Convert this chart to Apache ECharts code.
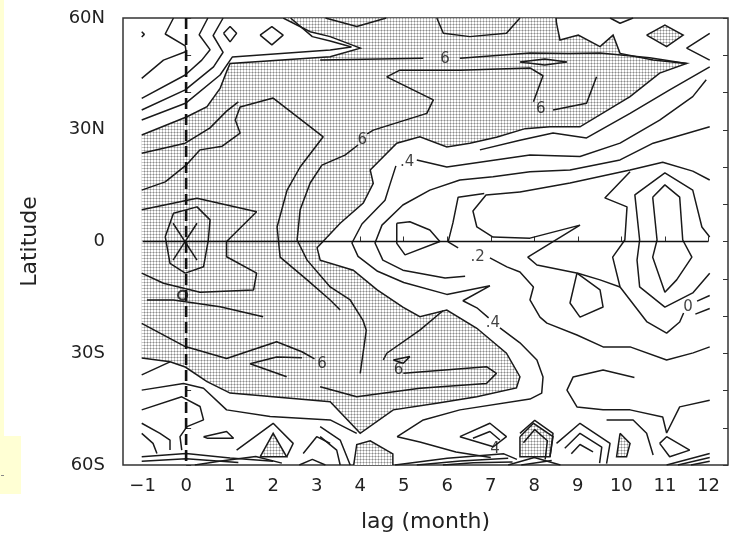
<!DOCTYPE html>
<html>
<head>
<meta charset="utf-8">
<script src="https://cdn.jsdelivr.net/npm/echarts@6/dist/echarts.min.js"></script>
<style>
  html, body { margin: 0; padding: 0; background: #fff; }
  #chart { width: 738px; height: 550px; }
</style>
</head>
<body>
<div id="chart"></div>
<script>
const FONT = 'DejaVu Sans';

// axis ticks / labels
const lagTicks = [-1, 0, 1, 2, 3, 4, 5, 6, 7, 8, 9, 10, 11, 12];
const latLabelValues = [-60, -30, 0, 30, 60];
const latLabelText = ['60S', '30S', '0', '30N', '60N'];

// reference lines
const zeroLagLine = [[0, 60], [0, -60]];
const zeroLatLine = [[-1, 0], [12, 0]];

// stippled regions (lag, latitude)
const shadeMain = [
    [-1.02, 28.6], [0.02, 33.5], [0.48, 36.2], [0.78, 41.1], [0.93, 45.6], [1.01, 47.8], [3.31, 49.6], [4.0, 51.9],
    [3.31, 55.0], [2.85, 56.3], [2.23, 60], [8.5, 60], [8.51, 58.6], [8.59, 54.1], [9.01, 55.4], [9.51, 52.3],
    [9.81, 55.4], [9.97, 50.5], [10.73, 48.7], [11.5, 47.8], [10.88, 45.2], [10.2, 38.9], [9.05, 30.8], [8.36, 30.8],
    [7.79, 30.3], [7.13, 28.0], [6.52, 26.4], [5.99, 25.4], [5.37, 28.1], [4.84, 26.4], [4.23, 19.2], [4.3, 15.6],
    [4.07, 10.3], [3.54, 4.9], [3.01, -1.7], [3.08, -5.0], [3.84, -7.7], [4.39, -13.0], [4.98, -17.6], [5.37, -20.2],
    [5.99, -18.4], [6.68, -23.3], [7.36, -30.0], [7.67, -36.3], [7.59, -39.3], [6.68, -41.7], [5.76, -43.4],
    [4.76, -45.2], [4.0, -51.5], [3.31, -43.0], [1.01, -40.7], [0.48, -37.6], [-0.02, -33.7], [-0.37, -32.3], [-1.02, -31.3]
];
const shadeP2 = [[1.70, -57.8], [2.00, -51.5], [2.31, -57.8]];
const shadeP3 = [[3.85, -60], [3.92, -54.5], [4.23, -53.5], [4.75, -57], [4.75, -60]];
const shadeP4 = [[7.67, -52.4], [7.98, -48.8], [8.43, -52.4], [8.36, -57.8], [7.67, -57.8]];
const shadeP5 = [[9.97, -51.5], [10.2, -54.2], [10.12, -57.8], [9.89, -57.8]];
const shadeP6 = [[10.58, 55.4], [11.0, 58.1], [11.42, 55.4], [11.04, 52.3]];
const shadePolys = [shadeMain, shadeP2, shadeP3, shadeP4, shadeP5, shadeP6];

// contour lines, upper left
const lineC1 = [[-1.02, 43.8], [-0.52, 48.7], [0, 51.0], [-0.02, 52.5], [-0.48, 55.7], [-0.29, 60]];
const lineC2 = [[-1.02, 38.4], [-0.02, 44.7], [0.36, 48.7], [0.55, 51.5], [0.30, 55.5], [0.50, 60]];
const lineC3 = [[-1.02, 35.3], [-0.02, 40.7], [0.63, 46.9], [0.85, 50.8], [0.62, 55.3], [0.85, 60]];
const lineC4 = [[-1.02, 32.6], [0, 37.2], [0.78, 44.7], [1.06, 49.5], [3.31, 51.4], [3.8, 52.2], [3.31, 53.8], [2.9, 55.0], [2.4, 60]];
const diamond1 = [[0.86, 55.9], [1.01, 57.7], [1.16, 55.9], [1.01, 53.6], [0.86, 55.9]];
const diamond2 = [[1.70, 55.4], [1.97, 57.7], [2.23, 55.4], [1.97, 52.8], [1.70, 55.4]];
const cornerMark = [[-1.02, 56.3], [-0.96, 55.6], [-1.02, 54.9]];

// upper band
const topDip1 = [[3.2, 60], [3.92, 57.7], [4.6, 60]];
const topDip2 = [[5.76, 60], [5.91, 55.9], [6.52, 55.0], [7.36, 55.9], [7.67, 60]];
const topDip3 = [[9.74, 60], [9.97, 58.6], [10.27, 60]];
const rightWedge = [[12.03, 55.9], [11.5, 51.9], [12.03, 48.7]];
const line6a = [[3.08, 48.7], [5.45, 49.2]];
const line6b = [[6.29, 49.2], [7.90, 50.6], [8.8, 50.5], [9.51, 50.6], [10.65, 49.3], [11.5, 47.8]];
const loopU = [[7.67, 48.2], [8.24, 49.0], [8.75, 48.2], [8.24, 47.4], [7.67, 48.2]];
const lineN1a = [[9.43, 44.2], [9.20, 37.1], [8.43, 35.3]];
const lineN1b = [[7.98, 37.5], [8.20, 44.5], [7.90, 46.6], [6.29, 46.0], [4.91, 46.0], [4.61, 44.2], [5.68, 38.0], [5.53, 34.4], [4.30, 29.9], [4.16, 28.9]];
const lineN1c = [[3.95, 25.9], [3.65, 23.2], [3.12, 20.5], [2.85, 15.7], [2.62, 8.5], [2.55, 0.4], [2.78, -5.0], [3.31, -12.2], [3.77, -15.7], [4.06, -21.1], [4.14, -23.8], [4.0, -35.4]];
const lineN2 = [[-1.02, 13.8], [-0.48, 16.0], [0, 20.5], [0.32, 24.6], [0.83, 25.6], [1.24, 29.1], [1.13, 32.6], [1.24, 36.1], [2.00, 38.5], [3.15, 28.1], [2.62, 20.0], [2.32, 13.8], [2.09, 3.9], [2.16, -4.2], [2.78, -10.3], [3.31, -15.7], [3.54, -18.4]];
const lineN3 = [[-1.02, 23.7], [-0.02, 26.4], [0.55, 30.5], [0.93, 35.0], [1.2, 37.5]];

// equatorial cell near lag 0
const loopO = [[-1.02, -8.5], [-0.52, -11.2], [0.32, -13.6], [1.55, -13.0], [1.62, -8.5], [0.93, -4.1], [0.93, 0], [1.62, 8.0], [0.25, 11.6], [-1.02, 8.5]];
const loopI = [[-0.48, 1.3], [-0.29, 7.6], [0.25, 9.3], [0.55, 5.8], [0.51, 0.4], [0.40, -6.8], [-0.02, -8.5], [-0.37, -5.9], [-0.48, 1.3]];
const crossA = [[-0.30, 4.9], [0.25, -5.0]];
const crossB = [[0.25, 4.9], [-0.30, -5.0]];
const lineLL = [[-0.90, -15.7], [-0.29, -15.7], [0.78, -17.5], [1.77, -20.2]];

// southern band
const lineSa = [[-1.02, -22.0], [-0.02, -28.2], [0.93, -31.4], [2.08, -26.9], [2.66, -29.6], [2.95, -31.5]];
const lineSb = [[2.66, -31.2], [2.08, -31.0], [1.47, -32.8], [2.31, -36.3]];
const lineT8 = [[4.99, -35.4], [6.90, -33.6], [7.13, -35.4], [6.90, -38.1], [5.37, -39.4], [3.92, -41.7], [3.08, -39.0]];
const loopSmall6 = [[4.76, -31.8], [5.14, -30.9], [4.99, -32.7], [4.76, -31.8]];
const lineM8 = [[5.9, -18.6], [5.37, -23.8], [4.61, -30.0], [4.53, -31.8]];
const lineWa = [[-0.37, -32.3], [-1.02, -35.8]];
const lineWb = [[-1.02, -39.9], [-0.06, -38.1], [0.40, -39.4], [0.93, -45.2], [1.93, -47.0], [3.31, -47.9], [3.92, -51.5]];
const lineWc = [[-1.02, -45.2], [-0.10, -41.7], [0.32, -44.3], [0.40, -47.9], [0.02, -49.7], [-0.14, -52.4], [-0.10, -56.0]];
const loopW = [[0.40, -52.4], [0.93, -51.0], [1.09, -52.8], [0.48, -52.8], [0.40, -52.4]];
const lineWd = [[-1.02, -48.8], [-0.60, -51.5], [-0.37, -53.3], [-0.37, -56.0]];
const lineWe = [[-1.02, -51.5], [-0.76, -54.2], [-0.67, -56.9]];
const pyr1 = [[1.16, -56.0], [2.00, -48.8], [2.46, -54.2], [2.31, -57.8]];
const lineWf = [[2.69, -56.9], [3.00, -52.4], [3.31, -54.2]];
const lineWg = [[3.08, -49.7], [3.54, -53.3], [3.77, -60]];
const lineWh = [[3.08, -52.4], [3.46, -56.0], [3.54, -60]];

// near the southern edge
const hatchL1 = [[-1.02, -57.8], [0, -56.9], [1.01, -58.1], [2.0, -59.0]];
const hatchL2 = [[-1.02, -59.0], [0, -58.3], [1.2, -59.3]];
const hatchL3 = [[0.2, -60], [0.8, -58.9], [1.6, -57.7], [2.2, -59.5]];
const hatchC1 = [[4.8, -60], [6.0, -58.2], [7.3, -57.0], [7.6, -58.5]];
const hatchC2 = [[5.3, -60], [6.3, -58.9], [7.4, -58.2]];
const hatchC3 = [[5.9, -60], [6.6, -59.4], [7.5, -59.2]];
const hatchC4 = [[2.6, -60], [2.9, -58.5], [3.2, -60]];
const hatchR1 = [[11.04, -60], [12.03, -56.9]];
const hatchR2 = [[11.3, -60], [12.03, -58.0]];
const hatchR3 = [[11.6, -60], [12.03, -59.0]];
const pyrA = [[7.67, -51.5], [8.01, -48.0], [8.43, -51.5], [8.36, -57.8]];
const pyrA2 = [[7.75, -54], [8.01, -50.5], [8.3, -53.5], [8.25, -58.5]];
const pyrB = [[8.51, -54.2], [9.05, -48.8], [9.74, -54.2], [9.66, -59.6]];
const pyrB2 = [[8.7, -55.5], [9.05, -51.5], [9.55, -55.2], [9.5, -59.5]];
const pyrB3 = [[8.85, -57], [9.05, -54.5], [9.35, -56.5]];
const hatchP1 = [[7.4, -60], [8.0, -58.0], [8.6, -60]];
const hatchP2 = [[7.7, -60], [8.4, -58.8]];

// central and eastern part
const lineR1 = [[6.75, 24.6], [7.67, 27.2], [8.43, 29.1], [9.20, 27.8], [10.20, 34.4], [11.11, 40.7], [12.03, 46.9]];
const lineZ1a = [[11.95, 43.4], [11.64, 38.9], [10.88, 32.6], [9.97, 26.4], [9.05, 22.8], [7.90, 23.2], [5.99, 20.0], [5.30, 21.9]];
const lineZ1b = [[4.82, 20.3], [4.68, 15.2], [4.57, 11.1], [4.04, 4.7], [3.81, -0.4], [3.95, -4.0], [4.40, -8.0], [5.0, -11.0], [5.99, -14.2], [6.98, -11.9], [6.36, -15.9], [6.68, -17.8], [6.95, -20.5]];
const lineZ1c = [[7.21, -23.2], [7.67, -27.2], [8.06, -31.8], [8.20, -36.4], [8.17, -40.7], [7.90, -42.3], [6.29, -45.2], [5.45, -47.9], [4.85, -52.4], [5.37, -53.8], [6.2, -56.5], [7.0, -58.0]];
const lineZ2 = [[12.03, 30.8], [10.73, 26.4], [9.97, 21.9], [8.82, 19.2], [7.90, 18.7], [7.05, 17.4], [6.29, 16.5], [5.60, 13.8], [4.98, 9.8], [4.50, 4.4], [4.34, -0.4], [4.52, -5.0], [4.98, -7.7], [5.95, -9.8], [6.41, -9.3]];
const loopT = [[4.84, 4.9], [5.14, 5.3], [5.60, 3.1], [5.83, 0], [5.03, -3.6], [4.84, -0.5], [4.84, 4.9]];
const lineZ3a = [[6.85, 12.9], [6.25, 11.9], [6.13, 5.0], [6.02, -0.1], [6.25, -1.7]];
const lineZ3b = [[6.98, -4.4], [7.37, -6.8], [7.67, -8.2], [7.98, -12.2], [7.90, -15.7], [8.13, -20.3], [8.29, -21.9], [8.98, -25.1], [9.58, -28.3], [10.20, -28.3], [11.04, -31.8], [11.65, -29.9], [12.03, -28.3]];
const lineQ1a = [[7.67, 13.3], [8.82, 15.7], [10.20, 19.2], [10.95, 21.3], [11.64, 18.9], [12.03, 16.5]];
const lineQ1b = [[10.20, 18.7], [9.62, 11.7], [10.13, 9.3], [10.08, 0.4], [9.80, -4.2], [9.97, -12.2], [10.59, -21.6], [11.04, -24.6], [11.34, -21.6], [11.43, -19.2]];
const lineQ2 = [[7.67, 13.3], [6.89, 12.5], [6.59, 8.2], [6.68, 3.9], [7.05, 1.2], [7.90, 0.9], [9.05, 4.4], [7.85, -4.2], [8.06, -6.3], [9.00, -8.5], [9.51, -10.3], [9.97, -12.2]];
const loopBin = [[10.72, 11.9], [11.0, 15.2], [11.34, 11.9], [11.41, 0.4], [11.62, -4.2], [11.27, -10.3], [11.0, -13.6], [10.72, -4.2], [10.82, 0.4], [10.72, 11.9]];
const lineBmid = [[12.03, 1.2], [11.85, 3.9], [11.64, 13.8], [11.0, 18.4], [10.31, 12.5], [10.42, 0.4], [10.36, -5.0], [10.42, -12.2], [11.0, -17.6], [11.64, -13.8], [12.03, -8.5]];
const loopS1 = [[8.98, -8.5], [9.51, -13.0], [9.58, -17.6], [9.05, -20.3], [8.82, -16.5], [8.98, -8.5]];
const zeroBit1 = [[11.74, -16.0], [12.03, -14.5]];
const zeroBit2 = [[11.7, -19.5], [12.03, -18.0]];
const lineV9 = [[10.30, -36.5], [9.58, -34.5], [8.89, -36.4], [8.75, -39.9], [8.98, -44.4], [9.58, -45.2], [10.20, -45.2], [10.95, -47.1], [11.04, -51.4], [11.34, -44.4], [12.03, -42.6]];
const lineV9b = [[9.66, -47.9], [10.27, -47.9], [10.58, -51.5], [10.73, -57.3]];
const diamondS9 = [[10.88, -54.2], [11.04, -52.4], [11.57, -56.0], [11.11, -57.8], [10.88, -54.2]];
const diamondS1 = [[6.29, -52.4], [6.98, -48.8], [7.36, -52.4], [7.06, -55.1], [6.29, -52.4]];
const diamondS2 = [[6.59, -52.8], [6.98, -51.0], [7.21, -53.3]];

const contourLines = [
    lineC1, lineC2, lineC3, lineC4, diamond1, diamond2, cornerMark,
    topDip1, topDip2, topDip3, rightWedge, line6a, line6b, loopU, lineN1a, lineN1b, lineN1c, lineN2, lineN3,
    loopO, loopI, crossA, crossB, lineLL,
    lineSa, lineSb, lineT8, loopSmall6, lineM8, lineWa, lineWb, lineWc, loopW, lineWd, lineWe, pyr1, lineWf, lineWg, lineWh,
    hatchL1, hatchL2, hatchL3, hatchC1, hatchC2, hatchC3, hatchC4, hatchR1, hatchR2, hatchR3,
    pyrA, pyrA2, pyrB, pyrB2, pyrB3, hatchP1, hatchP2,
    lineR1, lineZ1a, lineZ1b, lineZ1c, lineZ2, loopT, lineZ3a, lineZ3b, lineQ1a, lineQ1b, lineQ2,
    loopBin, lineBmid, loopS1, zeroBit1, zeroBit2, lineV9, lineV9b, diamondS9, diamondS1, diamondS2
];

// contour labels
const labelPos = [[5.95, 48.9], [4.05, 27.3], [8.15, 35.6], [5.08, 21.2], [6.7, -4.3], [7.05, -22.0], [3.12, -32.8], [4.88, -34.6], [7.1, -55.8], [11.53, -17.6]];
const labelText = ['6', '6', '6', '.4', '.2', '.4', '6', '6', '4', '0'];
const markZero = [[-0.08, -14.4]];

const stipple = () => {
    const c = document.createElement('canvas');
    c.width = 3;
    c.height = 3;
    const g = c.getContext('2d');
    g.fillStyle = '#ffffff';
    g.fillRect(0, 0, 3, 3);
    g.fillStyle = '#c6c6c6';
    g.fillRect(0, 0, 3, 1);
    g.fillRect(0, 0, 1, 3);
    g.fillStyle = '#8c8c8c';
    g.fillRect(0, 0, 1, 1);
    return c;
};
const pattern = stipple();

// edges lying on the data frame are not stroked
const onFrame = (a, b) => (a[0] <= -1 && b[0] <= -1) || (a[1] >= 60 && b[1] >= 60) || (a[1] <= -60 && b[1] <= -60);
const outlineSegments = (poly) => {
    const segs = [];
    let cur = [];
    const n = poly.length;
    for (let i = 0; i < n; i++) {
        const a = poly[i], b = poly[(i + 1) % n];
        if (onFrame(a, b)) {
            if (cur.length > 1) segs.push(cur);
            cur = [];
            continue;
        }
        if (!cur.length) cur.push(a);
        cur.push(b);
    }
    if (cur.length > 1) segs.push(cur);
    return segs;
};

const LINE = '#1a1a1a';

const series = [
    {
        type: 'custom',
        coordinateSystem: 'cartesian2d',
        clip: true,
        silent: true,
        z: 1,
        data: shadePolys.map(p => p[0]),
        renderItem: (params, api) => {
            const poly = shadePolys[params.dataIndex];
            const children = [{
                type: 'polygon',
                shape: {points: poly.map(p => api.coord(p))},
                style: {fill: {image: pattern, repeat: 'repeat'}, stroke: null},
            }];
            for (const seg of outlineSegments(poly)) {
                children.push({
                    type: 'polyline',
                    shape: {points: seg.map(p => api.coord(p))},
                    style: {stroke: LINE, lineWidth: 1.5, fill: null},
                });
            }
            return {type: 'group', children};
        },
    },
    ...contourLines.map(d => ({
        type: 'line',
        data: d,
        symbol: 'none',
        silent: true,
        clip: true,
        z: 3,
        lineStyle: {color: LINE, width: 1.5},
    })),
    {
        type: 'line',
        data: zeroLatLine,
        symbol: 'none',
        silent: true,
        z: 4,
        lineStyle: {color: '#111', width: 1.3},
    },
    {
        type: 'line',
        data: zeroLagLine,
        symbol: 'none',
        silent: true,
        z: 4,
        lineStyle: {color: '#111', width: 2.6, type: [11, 5]},
    },
    {
        type: 'scatter',
        symbolSize: 0,
        silent: true,
        z: 5,
        data: labelPos.map((p, i) => ({value: p, name: labelText[i]})),
        label: {
            show: true,
            position: 'inside',
            formatter: '{b}',
            fontFamily: FONT,
            fontSize: 15,
            color: '#111',
        },
    },
    {
        type: 'scatter',
        symbol: 'circle',
        symbolSize: 9,
        silent: true,
        z: 6,
        data: markZero,
        itemStyle: {color: 'rgba(0,0,0,0)', borderColor: '#111', borderWidth: 2.2},
    },
];

const chart = echarts.init(document.getElementById('chart'), null, {renderer: 'canvas'});
chart.setOption({
    animation: false,
    backgroundColor: '#ffffff',
    textStyle: {fontFamily: FONT},
    graphic: [
        {type: 'rect', shape: {x: 0, y: 0, width: 4, height: 436}, style: {fill: '#ffffd4'}},
        {type: 'rect', shape: {x: 0, y: 436, width: 21, height: 58}, style: {fill: '#ffffd4'}},
        {type: 'rect', shape: {x: 1, y: 475, width: 3, height: 1}, style: {fill: '#888'}},
    ],
    grid: {
        left: 123, right: 10, top: 18, bottom: 85,
        show: true, borderColor: '#333', borderWidth: 1.5, backgroundColor: 'transparent',
    },
    xAxis: {
        type: 'value',
        min: -1.45,
        max: 12.45,
        axisLine: {show: false},
        splitLine: {show: false},
        axisTick: {inside: true, length: 5, customValues: lagTicks, lineStyle: {color: '#333'}},
        axisLabel: {
            customValues: lagTicks,
            formatter: v => (v < 0 ? '\u2212' + (-v) : String(v)),
            fontSize: 18,
            color: '#222',
            margin: 12,
            fontFamily: FONT,
        },
        name: 'lag (month)',
        nameLocation: 'middle',
        nameGap: 46,
        nameTextStyle: {fontSize: 22, color: '#222', fontFamily: FONT},
    },
    yAxis: [
        {
            type: 'value',
            min: -60,
            max: 60,
            interval: 10,
            position: 'left',
            axisLine: {show: false},
            splitLine: {show: false},
            axisTick: {inside: true, length: 5, lineStyle: {color: '#333'}},
            axisLabel: {
                customValues: latLabelValues,
                formatter: v => latLabelText[latLabelValues.indexOf(v)],
                fontSize: 18,
                color: '#222',
                margin: 18,
                fontFamily: FONT,
            },
            name: 'Latitude',
            nameLocation: 'middle',
            nameGap: 82,
            nameTextStyle: {fontSize: 22, color: '#222', fontFamily: FONT},
        },
        {
            type: 'value',
            min: -60,
            max: 60,
            interval: 10,
            position: 'right',
            axisLine: {show: false},
            splitLine: {show: false},
            axisTick: {inside: true, length: 5, lineStyle: {color: '#333'}},
            axisLabel: {show: false},
        },
    ],
    series,
});
</script>
</body>
</html>
